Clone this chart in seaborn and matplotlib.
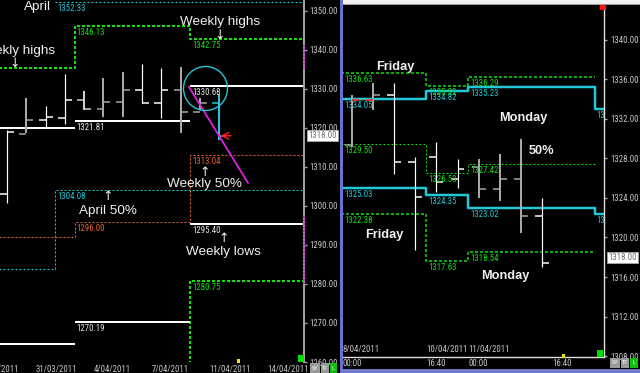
import matplotlib
matplotlib.use("Agg")
import matplotlib.pyplot as plt
import matplotlib.patches as mpatches
from matplotlib import font_manager as fm
import seaborn as sns
from matplotlib.transforms import blended_transform_factory as btf

# ---------------- data ----------------
# left panel: daily OHLC bars
left_idx = list(range(12))
left_open = [1303.0, 1318.5, 1322.0, 1322.6, 1327.2, 1324.9, 1326.7, 1329.7, 1326.4, 1329.7, 1324.1, 1326.4]
left_high = [1319.5, 1327.7, 1325.6, 1333.8, 1329.5, 1332.8, 1334.4, 1336.4, 1335.4, 1335.6, 1327.7, 1328.7]
left_low = [1300.8, 1318.7, 1320.3, 1321.0, 1324.6, 1322.9, 1322.9, 1326.4, 1322.6, 1318.7, 1324.5, 1317.0]
left_close = [1319.0, 1322.0, 1322.8, 1327.2, 1324.9, 1326.7, 1329.7, 1326.4, 1329.7, 1324.1, 1326.4, 1318.0]
left_bar_colors = ["#ffffff", "#a8a8a8", "#ffffff", "#ffffff", "#d0d0d0", "#a8a8a8",
                   "#a8a8a8", "#ffffff", "#ffffff", "#a8a8a8", "#a8a8a8", "#20c8d8"]
left_date_ticks = [-1.5, 1.5, 4.5, 7.5, 10.5, 13.5]
left_date_labels = ["28/03/2011", "31/03/2011", "4/04/2011", "7/04/2011", "11/04/2011", "14/04/2011"]
left_price_ticks = [1260, 1270, 1280, 1290, 1300, 1310, 1320, 1330, 1340, 1350]

week_edges = [-1.0, 3.5, 9.5, 16.0]
week_high_green = [1335.40, 1346.13, 1342.75]
week_mid_orange = [1292.00, 1296.00, 1313.04]
week_low_green_last = 1280.75
week_high_white = [1319.90, 1321.81, 1330.68]
week_low_white = [1264.60, 1270.19, 1295.40]
month_edges = [-1.0, 2.5, 16.0]
month_mid_cyan = [1283.80, 1304.08]
april_high_cyan = 1352.33
left_last_price = 1318.00

# right panel: intraday OHLC bars
right_idx = list(range(10))
right_open = [1329.4, 1333.9, 1334.4, 1327.6, 1328.2, 1325.9, 1327.1, 1324.9, 1325.9, 1322.2]
right_high = [1334.4, 1335.6, 1335.6, 1328.2, 1329.7, 1327.95, 1327.95, 1328.5, 1330.0, 1324.0]
right_low = [1329.2, 1332.9, 1326.4, 1318.7, 1324.6, 1325.0, 1324.0, 1323.7, 1320.5, 1317.0]
right_close = [1333.9, 1334.4, 1327.6, 1324.1, 1325.6, 1326.9, 1324.9, 1325.9, 1322.2, 1317.4]
right_bar_colors = ["#a8a8a8", "#a8a8a8", "#ffffff", "#ffffff", "#ffffff", "#ffffff",
                    "#a8a8a8", "#a8a8a8", "#a8a8a8", "#ffffff"]
right_price_ticks = [1308, 1312, 1316, 1320, 1324, 1328, 1332, 1336, 1340]
right_time_ticks = [-0.47, 3.5, 5.5, 9.5]
right_time_labels = ["00:00", "16:40", "00:00", "16:40"]
right_date_ticks = [-0.47, 3.5, 5.5]
right_date_labels = ["8/04/2011", "10/04/2011", "11/04/2011"]

day_edges = [-1.0, 3.5, 5.5, 11.5]
day_high_green = [1336.63, 1335.32, 1336.29]
day_mid_green = [1329.50, 1326.50, 1327.42]
day_low_green = [1322.38, 1317.63, 1318.54]
cyan_edges = [-1.0, 3.5, 5.5, 11.5, 13.0]
cyan_upper = [1334.05, 1334.82, 1335.23, 1333.00]
cyan_lower = [1325.03, 1324.35, 1323.02, 1322.40]
right_last_price = 1318.00

# ---------------- style ----------------
sns.set_theme(style="dark", rc={"axes.facecolor": "black", "figure.facecolor": "black"})
plt.rcParams["font.family"] = ["Liberation Sans", "DejaVu Sans"]
plt.rcParams["lines.scale_dashes"] = False
plt.rcParams["axes.grid"] = False


def has_font(name):
    try:
        fm.findfont(fm.FontProperties(family=name), fallback_to_default=False)
        return True
    except Exception:
        return False


SMALL = ["Liberation Sans", "DejaVu Sans"]
FS = 5.7
for cand in ("Liberation Sans Narrow", "Roboto Condensed", "Open Sans Condensed"):
    if has_font(cand):
        SMALL = [cand, "Liberation Sans", "DejaVu Sans"]
        FS = 6.3
        break

GREEN = "#10e010"
CYAN = "#20c8d8"
ORANGE = "#e8642a"
TICKC = "#c8c8c8"
PX = 0.72  # points per pixel

W, H = 640, 373
fig = plt.figure(figsize=(6.4, 3.73), dpi=100, facecolor="black")


def px_axes(x0, y0, x1, y1):
    return fig.add_axes([x0 / W, 1 - y1 / H, (x1 - x0) / W, (y1 - y0) / H])


axL = px_axes(0, 0, 304, 362)
axR = px_axes(342, 5, 604, 357)


def step(ax, edges, vals, color, lw, ls):
    xs = list(edges)
    ys = list(vals) + [vals[-1]]
    sns.lineplot(x=xs, y=ys, drawstyle="steps-post", estimator=None, sort=False,
                 ax=ax, color=color, lw=lw, linestyle=ls)


def ohlc(ax, xs, o, h, l, c, colors, tick):
    for x, oo, hh, ll, cc, col in zip(xs, o, h, l, c, colors):
        w = 2 * PX if col != "#ffffff" else 1.2 * PX
        ax.vlines(x, ll, hh, color=col, lw=w)
        ax.hlines(oo, x - tick, x, color=col, lw=1.5 * PX)
        ax.hlines(cc, x, x + tick, color=col, lw=1.5 * PX)


def vlabel(ax, x, y, color, clip=False, dy=-1.5):
    ax.annotate(f"{y:.2f}", xy=(x, y), xytext=(1.5, dy),
                textcoords="offset points", ha="left", va="top", color=color,
                fontsize=FS, family=SMALL, annotation_clip=False, clip_on=clip)


dash_g = (0, (3 * PX, 2 * PX))
dot_c = (0, (2 * PX, 2 * PX))

# ---------------- left panel ----------------
ax = axL
ax.set_facecolor("black")
step(ax, week_edges, week_high_green, GREEN, 2 * PX, dash_g)
step(ax, week_edges, week_mid_orange, ORANGE, 1 * PX, dot_c)
step(ax, month_edges, month_mid_cyan, CYAN, 1 * PX, dot_c)
ax.hlines(april_high_cyan, month_edges[1], month_edges[-1], color=CYAN, lw=1 * PX, linestyle=dot_c)
sns.lineplot(x=[week_edges[2], week_edges[2], week_edges[3]],
             y=[1255.0, week_low_green_last, week_low_green_last], estimator=None, sort=False,
             ax=ax, color=GREEN, lw=2 * PX, linestyle=dash_g)
for i in range(3):
    ax.hlines(week_high_white[i], week_edges[i], week_edges[i + 1], color="white", lw=2 * PX)
    ax.hlines(week_low_white[i], week_edges[i], week_edges[i + 1], color="white", lw=2 * PX)

ohlc(ax, left_idx, left_open, left_high, left_low, left_close, left_bar_colors, 0.36)

vlabel(ax, month_edges[1], april_high_cyan, CYAN)
vlabel(ax, month_edges[1], month_mid_cyan[1], CYAN)
for i in (1, 2):
    vlabel(ax, week_edges[i], week_high_green[i], GREEN)
    vlabel(ax, week_edges[i], week_mid_orange[i], ORANGE)
    vlabel(ax, week_edges[i], week_high_white[i], "#e8e8e8")
    vlabel(ax, week_edges[i], week_low_white[i], "#e8e8e8")
vlabel(ax, week_edges[2], week_low_green_last, GREEN)

ax.plot([9.43, 12.49], [1330.5, 1305.9], color="#e020e0", lw=1.3)
ax.plot([10.26], [1330.26], marker="o", ms=44 * PX, mfc="none", mec=CYAN, mew=1.0)
ax.annotate("", xy=(10.93, 1318.0), xytext=(11.75, 1318.0),
            arrowprops=dict(arrowstyle="->", color="#ff2020", lw=1.0))

tr = btf(ax.transAxes, ax.transData)
ax.plot([1.0, 1.0], [1341.3, 1334.9], transform=tr, color="#d020d0", lw=2 * PX,
        linestyle=(0, (2 * PX, 1.5 * PX)), clip_on=False, zorder=5, scalex=False, scaley=False)
ax.plot([1.0, 1.0], [1297.4, 1280.1], transform=tr, color="#d020d0", lw=2 * PX,
        linestyle=(0, (2 * PX, 1.5 * PX)), clip_on=False, zorder=5, scalex=False, scaley=False)

TXT = dict(color="#f0f0f0", fontsize=9.7, ha="center", va="center")
ARW = dict(color="#f0f0f0", fontsize=9, ha="center", va="center", family="DejaVu Sans")
ax.text(1.58, 1351.0, "April", **TXT)
ax.text(11.04, 1347.2, "Weekly highs", **TXT)
ax.text(11.04, 1343.6, "↓", **ARW)
ax.text(0.41, 1339.7, "Weekly highs", **TXT)
ax.text(0.41, 1336.4, "↓", **ARW)
ax.text(10.23, 1305.6, "Weekly 50%", **TXT)
ax.text(10.23, 1308.6, "↑", **ARW)
ax.text(5.21, 1298.7, "April 50%", **TXT)
ax.text(5.21, 1302.3, "↑", **ARW)
ax.text(11.22, 1288.2, "Weekly lows", **TXT)
ax.text(11.22, 1291.6, "↑", **ARW)

ax.yaxis.tick_right()
ax.set_yticks(left_price_ticks)
ax.set_yticklabels([f"{v:.2f}" for v in left_price_ticks], family=SMALL, fontsize=FS, color=TICKC)
ax.set_xticks(left_date_ticks[1:])
ax.set_xticklabels(left_date_labels[1:], family=SMALL, fontsize=FS, color=TICKC, ha="left")
ax.set_xlim(-0.363, 15.39)
ax.set_ylim(1260.0, 1352.8)
trxL = btf(ax.transData, ax.transAxes)
ax.annotate(left_date_labels[0], xy=(left_date_ticks[0], 0), xycoords=trxL, xytext=(0, -3 * PX),
            textcoords="offset points", ha="left", va="top", fontsize=FS, family=SMALL,
            color=TICKC, annotation_clip=False)
ax.tick_params(axis="y", right=True, length=3 * PX, width=1, color="#a0a0a0", pad=2 * PX)
ax.tick_params(axis="x", bottom=True, length=0, pad=3 * PX)
ax.set_xlabel("")
ax.set_ylabel("")
for s in ("left", "top", "bottom"):
    ax.spines[s].set_visible(False)
ax.spines["right"].set_color("#a0a0a0")
ax.spines["right"].set_linewidth(1.5)
ax.annotate(f"{left_last_price:.2f}", xy=(1.0, left_last_price), xycoords=tr, xytext=(3, 0),
            textcoords="offset points", ha="left", va="center", fontsize=FS, family=SMALL,
            color="#707070", annotation_clip=False,
            bbox=dict(boxstyle="square,pad=0.12", fc="white", ec="#b0b0b0", lw=0.5))

# ---------------- right panel ----------------
ax = axR
ax.set_facecolor("black")
step(ax, day_edges, day_high_green, GREEN, 1.5 * PX, dash_g)
step(ax, day_edges, day_mid_green, GREEN, 1 * PX, (0, (2 * PX, 2 * PX)))
step(ax, day_edges, day_low_green, GREEN, 1.5 * PX, dash_g)
step(ax, cyan_edges, cyan_upper, CYAN, 2.5 * PX, "-")
step(ax, cyan_edges, cyan_lower, CYAN, 2.5 * PX, "-")

ohlc(ax, right_idx, right_open, right_high, right_low, right_close, right_bar_colors, 0.33)
ax.hlines(right_close[0], 0, 0.33, color="#e02020", lw=1.5 * PX, zorder=4)
ax.hlines(right_open[1], 1 - 0.33, 1, color="#e02020", lw=1.5 * PX, zorder=4)

x0 = -0.47
for i in range(3):
    xl = max(day_edges[i], x0)
    vlabel(ax, xl, day_high_green[i], GREEN)
    vlabel(ax, xl, day_mid_green[i], GREEN)
    vlabel(ax, xl, day_low_green[i], GREEN)
for i in range(4):
    xl = max(cyan_edges[i], x0)
    vlabel(ax, xl, cyan_upper[i], CYAN, clip=(i == 3))
    vlabel(ax, xl, cyan_lower[i], CYAN, clip=(i == 3))

BT = dict(color="#f0f0f0", fontsize=9.2, fontweight="bold", ha="center", va="center")
ax.text(2.04, 1337.27, "Friday", **BT)
ax.text(8.1, 1332.1, "Monday", **BT)
ax.text(8.96, 1328.76, "50%", **BT)
ax.text(1.52, 1320.25, "Friday", **BT)
ax.text(7.25, 1316.1, "Monday", **BT)

ax.yaxis.tick_right()
ax.set_yticks(right_price_ticks)
ax.set_yticklabels([f"{v:.2f}" for v in right_price_ticks], family=SMALL, fontsize=FS, color=TICKC)
ax.set_xticks(right_time_ticks)
ax.set_xticklabels(right_time_labels, family=SMALL, fontsize=FS, color=TICKC, ha="left")
ax.set_xlim(-0.474, 11.94)
ax.set_ylim(1307.9, 1343.54)
ax.tick_params(axis="y", right=True, length=3 * PX, width=1, color="#a0a0a0", pad=3 * PX)
ax.tick_params(axis="x", bottom=True, length=0, pad=1.5 * PX)
trx = btf(ax.transData, ax.transAxes)
for xv, lab in zip(right_date_ticks, right_date_labels):
    ax.text(xv, 0.008, lab, transform=trx, ha="left", va="bottom", fontsize=FS,
            family=SMALL, color=TICKC)
ax.set_xlabel("")
ax.set_ylabel("")
for s in ("left", "top"):
    ax.spines[s].set_visible(False)
ax.spines["right"].set_color("#e0e0e0")
ax.spines["bottom"].set_color("#e0e0e0")
ax.spines["right"].set_linewidth(1.0)
ax.spines["bottom"].set_linewidth(1.0)
trR = btf(ax.transAxes, ax.transData)
ax.annotate(f"{right_last_price:.2f}", xy=(1.0, right_last_price), xycoords=trR, xytext=(3, 0),
            textcoords="offset points", ha="left", va="center", fontsize=FS, family=SMALL,
            color="#707070", annotation_clip=False,
            bbox=dict(boxstyle="square,pad=0.12", fc="white", ec="#b0b0b0", lw=0.5))


# ---------------- window chrome ----------------
def frect(x0, y0, x1, y1, color, z=10):
    fig.add_artist(mpatches.Rectangle((x0 / W, 1 - y1 / H), (x1 - x0) / W, (y1 - y0) / H,
                                      transform=fig.transFigure, facecolor=color,
                                      edgecolor="none", zorder=z))


frect(339.5, 0, 343, 373, "#6a70d8")
frect(341, 368.5, 640, 373, "#7078c8")
frect(343, 0, 640, 4, "#f2f2f2")
frect(343, 4, 640, 5, "#9a9a9a")
frect(600, 5, 606, 10, "#ff1010")
frect(298, 355, 304, 362, "#00e000")
frect(597, 350, 603, 357, "#00e000")
frect(237, 359, 240, 363, "#f0e020")
frect(562, 354, 565, 358, "#f0e020")


def fbox(x0, y0, x1, y1, fc, txt):
    frect(x0, y0, x1, y1, fc)
    fig.text((x0 + x1) / 2 / W, 1 - (y0 + y1) / 2 / H, txt, ha="center", va="center",
             fontsize=4.5, color="#f8f8f8", family=SMALL, zorder=11)


fbox(310, 363, 320, 373, "#9a9a9a", "SY")
fbox(320.5, 363, 329, 373, "#9a9a9a", "TF")
fbox(329.5, 363, 337, 373, "#10c010", "L")
fbox(610, 358, 620, 368, "#9a9a9a", "SY")
fbox(620.5, 358, 629, 368, "#9a9a9a", "TF")
fbox(629.5, 358, 638, 368, "#10c010", "L")

fig.savefig("out.png", dpi=100, facecolor="black")
